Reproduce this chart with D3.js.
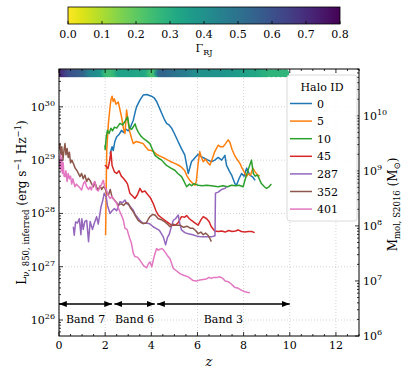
<!DOCTYPE html>
<html>
<head>
<meta charset="utf-8">
<script src="https://cdn.jsdelivr.net/npm/d3@7"></script>
<style>
body { margin: 0; background: #fff; }
</style>
</head>
<body>
<svg id="chart" width="416" height="377" font-family="'DejaVu Serif', 'Liberation Serif', serif"></svg>
<script>
// halo ids + colours
const haloIds = ["0", "5", "10", "45", "287", "352", "401"];
const haloColors = ["#1f77b4", "#ff7f0e", "#2ca02c", "#d62728", "#9467bd", "#8c564b", "#e377c2"];

// redshift and log10(L)
const halo0Z = [2.21,2.3,2.35,2.42,2.5,2.6,2.71,2.8,2.9,3.0,3.1,3.22,3.3,3.36,3.5,3.65,3.8,4.01,4.12,4.23,4.35,4.45,4.55,4.66,4.77,4.88,5.0,5.17,5.3,5.45,5.6,5.74,5.9,6.03,6.18,6.32,6.46,6.6,6.75,6.9,7.05,7.19,7.26,7.4,7.48,7.62,7.69,7.8,7.91,8.02,8.13,8.27,8.4,8.5];
const halo0L = [29.12,29.25,29.18,29.35,29.44,29.48,29.56,29.52,29.58,29.55,29.62,29.75,29.9,30.0,30.12,30.22,30.23,30.2,30.17,30.1,29.98,29.88,29.78,29.69,29.66,29.6,29.5,29.34,29.22,29.1,28.75,28.97,29.05,29.11,29.06,29.03,29.0,28.97,29.0,29.05,29.0,29.09,28.9,28.78,28.72,28.56,28.53,28.65,28.75,28.7,28.85,28.72,28.68,28.62];

const halo5Z = [2.02,2.04,2.07,2.14,2.2,2.25,2.3,2.35,2.4,2.47,2.57,2.64,2.71,2.79,2.86,2.93,3.0,3.07,3.15,3.22,3.35,3.5,3.65,3.75,3.87,4.0,4.1,4.25,4.45,4.6,4.8,5.02,5.2,5.3,5.45,5.55,5.67,5.8,5.89,5.95,6.02,6.1,6.17,6.25,6.35,6.45,6.54,6.62,6.75,6.9,7.0,7.11,7.2,7.33,7.4,7.5,7.6,7.69,7.84,7.91,8.0,8.12,8.2,8.3,8.4,8.5,8.6,8.7];
const halo5L = [27.59,28.3,29.2,29.69,29.95,30.13,30.2,30.1,30.15,30.05,30.09,29.95,29.81,29.6,29.5,29.94,29.7,29.53,29.4,29.31,29.35,29.33,29.31,29.25,29.19,29.18,29.16,29.1,29.06,29.03,28.98,28.94,28.9,28.87,28.8,28.7,28.62,28.56,28.53,28.6,28.9,29.16,29.05,28.97,29.02,28.95,28.91,29.0,29.16,29.28,29.25,29.25,29.3,29.38,29.34,29.2,29.1,29.03,28.94,28.87,28.8,28.69,28.74,28.72,28.85,28.78,28.72,28.7];

const halo10Z = [1.99,2.0,2.05,2.1,2.17,2.25,2.32,2.4,2.5,2.64,2.75,2.85,2.97,3.05,3.15,3.3,3.35,3.43,3.55,3.65,3.8,3.94,4.05,4.16,4.3,4.45,4.55,4.66,4.85,5.02,5.15,5.31,5.42,5.53,5.65,5.75,5.85,6.03,6.2,6.4,6.6,6.9,7.1,7.3,7.48,7.65,7.8,7.98,8.1,8.22,8.34,8.42,8.5,8.6,8.77,8.9,8.99,9.1,9.2];
const halo10L = [29.28,29.2,29.45,29.56,29.5,29.6,29.55,29.62,29.6,29.69,29.66,29.72,29.81,29.6,29.58,29.68,29.6,29.53,29.45,29.41,29.36,29.31,29.2,29.09,29.04,29.0,28.95,28.9,28.85,28.81,28.75,28.69,28.6,28.5,28.55,28.52,28.56,28.53,28.52,28.53,28.52,28.5,28.52,28.5,28.53,28.52,28.53,28.5,28.69,28.85,29.0,28.75,28.7,28.72,28.56,28.5,28.47,28.5,28.55];

const halo45Z = [1.99,2.05,2.12,2.18,2.25,2.3,2.4,2.5,2.6,2.7,2.79,2.9,2.97,3.07,3.18,3.29,3.4,3.51,3.6,3.72,3.85,3.95,4.08,4.2,4.3,4.4,4.5,4.65,4.88,5.05,5.15,5.31,5.45,5.53,5.65,5.74,5.9,6.03,6.15,6.25,6.4,6.5,6.6,6.75,6.9,7.05,7.2,7.35,7.5,7.65,7.76,7.9,8.05,8.2,8.35,8.48];
const halo45L = [28.91,28.88,28.84,28.95,29.16,28.9,28.78,28.75,28.8,28.7,28.66,28.6,28.55,28.38,28.33,28.28,28.35,28.47,28.4,28.42,28.35,28.3,28.19,28.05,27.97,27.93,27.9,27.85,27.78,27.78,27.82,27.94,27.93,27.96,27.9,27.87,27.82,27.78,27.88,27.94,27.9,27.85,27.75,27.67,27.66,27.67,27.65,27.68,27.66,27.67,27.69,27.66,27.65,27.66,27.66,27.64];

const halo287Z = [0.62,0.66,0.72,0.8,0.88,0.95,0.99,1.05,1.12,1.2,1.28,1.35,1.45,1.52,1.63,1.7,1.82,1.9,1.96,2.05,2.1,2.21,2.3,2.4,2.5,2.64,2.75,2.86,2.95,3.05,3.22,3.3,3.43,3.55,3.65,3.8,3.95,4.08,4.2,4.35,4.52,4.62,4.7,4.77,4.85,4.95,5.05,5.17,5.24,5.31,5.45,5.6,5.8,6.0,6.18,6.4,6.6,6.76,6.78,6.9,7.05,7.19,7.26];
const halo287L = [27.75,27.59,27.84,27.82,27.9,27.6,27.9,27.7,27.85,27.87,27.47,27.85,27.7,27.8,27.94,27.8,28.12,28.25,28.38,28.3,28.15,28.0,28.05,28.09,28.05,28.22,28.2,28.25,28.18,28.15,28.06,27.98,27.91,27.85,27.81,27.82,27.8,27.75,27.72,27.68,27.56,27.41,27.55,27.6,27.72,27.87,27.9,27.97,27.8,27.69,27.64,27.62,27.6,27.57,27.56,27.56,27.56,27.58,28.38,28.4,28.45,28.47,28.5];

const halo352Z = [0.0,0.04,0.08,0.12,0.17,0.22,0.26,0.3,0.35,0.4,0.45,0.5,0.56,0.62,0.7,0.77,0.84,0.91,0.98,1.05,1.12,1.2,1.27,1.34,1.42,1.49,1.56,1.62,1.7,1.78,1.85,1.92,1.99,2.07,2.14,2.22,2.3,2.4,2.5,2.57,2.7,2.8,2.9,3.0,3.1,3.22,3.32,3.43,3.55,3.65,3.78,3.88,3.94,4.05,4.16,4.3,4.45,4.59,4.7,4.81,4.95,5.05,5.24,5.4,5.55,5.7,5.81,5.92,6.03,6.15,6.25,6.35,6.46,6.55,6.6];
const halo352L = [29.2,29.31,29.1,29.25,29.0,29.2,29.31,29.1,29.22,29.05,29.15,28.95,29.0,28.94,28.85,28.81,28.75,28.69,28.75,28.65,28.72,28.6,28.66,28.62,28.55,28.5,28.58,28.5,28.44,28.52,28.45,28.5,28.48,28.38,28.34,28.45,28.3,28.25,28.2,28.16,28.18,28.15,28.2,28.19,28.1,28.03,27.95,27.87,27.83,27.81,27.82,27.9,27.94,27.98,27.97,27.9,27.88,27.84,27.8,27.75,27.8,27.78,27.78,27.74,27.76,27.72,27.72,27.68,27.62,27.65,27.6,27.63,27.59,27.52,27.47];

const halo401Z = [0.0,0.03,0.06,0.09,0.12,0.15,0.18,0.22,0.26,0.3,0.35,0.4,0.45,0.5,0.55,0.6,0.69,0.75,0.82,0.9,0.98,1.05,1.12,1.2,1.28,1.35,1.4,1.48,1.55,1.62,1.7,1.78,1.85,1.92,1.98,2.05,2.12,2.21,2.3,2.4,2.5,2.57,2.64,2.72,2.79,2.86,2.95,3.05,3.14,3.22,3.29,3.4,3.51,3.65,3.72,3.8,3.87,3.94,4.02,4.1,4.16,4.23,4.3,4.38,4.45,4.52,4.62,4.73,4.81,4.95,5.1,5.24,5.4,5.6,5.81,5.95,6.1,6.25,6.39,6.5,6.6,6.7,6.85,6.97,7.1,7.2,7.33,7.45,7.55,7.62,7.75,7.9,8.05,8.15,8.27];
const halo401L = [29.0,28.85,29.1,28.8,29.05,28.75,28.95,28.7,28.69,28.8,28.6,28.75,28.65,28.7,28.55,28.65,28.5,28.55,28.52,28.48,28.44,28.55,28.6,28.5,28.45,28.5,28.44,28.55,28.6,28.45,28.42,28.5,28.55,28.62,28.5,28.45,28.35,28.28,28.32,28.25,28.19,28.1,28.03,27.95,27.87,27.72,27.7,27.55,27.44,27.25,27.19,27.18,27.12,27.03,27.0,26.98,27.05,27.09,27.0,27.15,27.25,27.34,27.31,27.33,27.34,27.32,27.26,27.19,27.15,26.97,26.92,26.87,26.84,26.81,26.74,26.73,26.75,26.76,26.77,26.8,26.78,26.8,26.8,26.81,26.78,26.73,26.72,26.68,26.64,26.61,26.6,26.56,26.53,26.52,26.51];

const haloZ = [halo0Z, halo5Z, halo10Z, halo45Z, halo287Z, halo352Z, halo401Z];
const haloL = [halo0L, halo5L, halo10L, halo45L, halo287L, halo352L, halo401L];

// Gamma_RJ strip along the top
const rowZ = [0.0,0.1,0.2,0.3,0.4,0.5,0.6,0.7,0.8,0.9,1.0,1.1,1.2,1.3,1.4,1.5,1.6,1.7,1.8,1.9,2.0,2.1,2.2,2.3,2.4,2.5,2.6,2.7,2.8,2.9,3.0,3.1,3.2,3.3,3.4,3.5,3.6,3.7,3.8,3.9,4.0,4.1,4.2,4.3,4.4,4.5,4.6,4.7,4.8,4.9,5.0,5.1,5.2,5.3,5.4,5.5,5.6,5.7,5.8,5.9,6.0,6.1,6.2,6.3,6.4,6.5,6.6,6.7,6.8,6.9,7.0,7.1,7.2,7.3,7.4,7.5,7.6,7.7,7.8,7.9,8.0,8.1,8.2,8.3,8.4,8.5,8.6,8.7,8.8,8.9,9.0,9.2,9.4,9.6,9.8];
const rowGamma = [0.74,0.72,0.70,0.67,0.64,0.61,0.60,0.59,0.58,0.57,0.56,0.55,0.53,0.48,0.45,0.43,0.42,0.41,0.40,0.38,0.30,0.26,0.25,0.25,0.26,0.28,0.33,0.34,0.34,0.34,0.34,0.34,0.34,0.34,0.33,0.33,0.33,0.33,0.32,0.30,0.25,0.24,0.25,0.40,0.52,0.54,0.55,0.54,0.53,0.52,0.51,0.50,0.49,0.48,0.48,0.47,0.46,0.45,0.44,0.42,0.41,0.41,0.40,0.40,0.40,0.40,0.40,0.40,0.40,0.39,0.39,0.39,0.39,0.38,0.38,0.38,0.37,0.37,0.36,0.36,0.35,0.35,0.34,0.34,0.33,0.33,0.33,0.32,0.31,0.30,0.29,0.28,0.28,0.28,0.28];

// ALMA bands
const bandNames = ["Band 7", "Band 6", "Band 3"];
const bandStart = [0, 2.4, 4.25];
const bandEnd = [2.3, 4.15, 10];

const xTicks = [0, 2, 4, 6, 8, 10, 12];
const yTicks = [26, 27, 28, 29, 30];
const yRightTicks = [6, 7, 8, 9, 10];
const cbTicks = [0.0, 0.1, 0.2, 0.3, 0.4, 0.5, 0.6, 0.7, 0.8];

const svg = d3.select("#chart");
const pL = 59, pR = 359, pT = 69, pB = 336;

const x = d3.scaleLinear().domain([0, 13]).range([pL, pR]);
const y = d3.scaleLog().domain([Math.pow(10, 25.7), Math.pow(10, 30.71)]).range([pB, pT]);
const yR = d3.scaleLog().domain([1e6, Math.pow(10, 10.85)]).range([pB, pT]);
const cmap = v => d3.interpolateViridis(1 - v / 0.8);

// grid
const grid = svg.append("g").attr("stroke", "#c8c8c8").attr("stroke-width", 0.8).attr("stroke-dasharray", "1,2");
xTicks.forEach(t => grid.append("line").attr("x1", x(t)).attr("x2", x(t)).attr("y1", pT).attr("y2", pB));
yTicks.forEach(t => grid.append("line").attr("x1", pL).attr("x2", pR).attr("y1", y(Math.pow(10, t))).attr("y2", y(Math.pow(10, t))));

// clip
svg.append("clipPath").attr("id", "clip").append("rect")
    .attr("x", pL).attr("y", pT).attr("width", pR - pL).attr("height", pB - pT);

const line = d3.line().x(d => x(d[0])).y(d => y(Math.pow(10, d[1])));
const plot = svg.append("g").attr("clip-path", "url(#clip)");
haloIds.forEach((id, i) => {
    const pts = haloZ[i].map((z, j) => [z, haloL[i][j]]);
    plot.append("path").datum(pts)
        .attr("d", line)
        .attr("fill", "none")
        .attr("stroke", haloColors[i])
        .attr("stroke-width", 1.5)
        .attr("stroke-linejoin", "round");
});

// gamma strip
plot.selectAll("circle.row").data(rowZ).enter().append("circle")
    .attr("cx", d => x(d))
    .attr("cy", y(Math.pow(10, 30.63)))
    .attr("r", 4)
    .attr("fill", (d, i) => cmap(rowGamma[i]));

// band arrows
svg.append("defs").html(
    '<marker id="ah" viewBox="0 0 10 10" refX="10" refY="5" markerWidth="6" markerHeight="6" orient="auto-start-reverse">' +
    '<path d="M0,1 L10,5 L0,9 z" fill="#000"/></marker>');
const bandY = 304;
bandNames.forEach((b, i) => {
    svg.append("line")
        .attr("x1", x(bandStart[i])).attr("x2", x(bandEnd[i]))
        .attr("y1", bandY).attr("y2", bandY)
        .attr("stroke", "#000").attr("stroke-width", 1.3)
        .attr("marker-start", "url(#ah)").attr("marker-end", "url(#ah)");
    svg.append("text")
        .attr("x", x((bandStart[i] + bandEnd[i]) / 2))
        .attr("y", 323)
        .attr("text-anchor", "middle")
        .attr("font-size", 11)
        .text(b);
});

// frame
svg.append("rect").attr("x", pL).attr("y", pT).attr("width", pR - pL).attr("height", pB - pT)
    .attr("fill", "none").attr("stroke", "#000").attr("stroke-width", 1);

// ticks
const tk = svg.append("g").attr("stroke", "#000").attr("stroke-width", 0.8);
for (let t = 0; t <= 13; t += 0.5) {
    const len = (t % 2 === 0) ? 4 : 2;
    tk.append("line").attr("x1", x(t)).attr("x2", x(t)).attr("y1", pB).attr("y2", pB - len);
    tk.append("line").attr("x1", x(t)).attr("x2", x(t)).attr("y1", pT).attr("y2", pT + len);
}
y.ticks(40).forEach(v => {
    const major = Math.abs(Math.log10(v) - Math.round(Math.log10(v))) < 1e-6;
    tk.append("line").attr("x1", pL).attr("x2", pL + (major ? 4 : 2)).attr("y1", y(v)).attr("y2", y(v));
});
yR.ticks(40).forEach(v => {
    const major = Math.abs(Math.log10(v) - Math.round(Math.log10(v))) < 1e-6;
    tk.append("line").attr("x1", pR).attr("x2", pR - (major ? 4 : 2)).attr("y1", yR(v)).attr("y2", yR(v));
});

// tick labels
xTicks.forEach(t => svg.append("text").attr("x", x(t)).attr("y", 349).attr("text-anchor", "middle")
    .attr("font-size", 11).text(t));
yTicks.forEach(t => {
    const tx = svg.append("text").attr("x", 55).attr("y", y(Math.pow(10, t)) + 4)
        .attr("text-anchor", "end").attr("font-size", 11);
    tx.append("tspan").text("10");
    tx.append("tspan").attr("dy", -5).attr("font-size", 8).text(t);
});
yRightTicks.forEach(t => {
    const tx = svg.append("text").attr("x", 363).attr("y", yR(Math.pow(10, t)) + 4)
        .attr("font-size", 11);
    tx.append("tspan").text("10");
    tx.append("tspan").attr("dy", -5).attr("font-size", 8).text(t);
});

// axis labels
svg.append("text").attr("x", x(6.5)).attr("y", 366).attr("text-anchor", "middle")
    .attr("font-size", 13).attr("font-style", "italic").text("z");

const ly = svg.append("text").attr("transform", `translate(26,${(pT + pB) / 2}) rotate(-90)`)
    .attr("text-anchor", "middle").attr("font-size", 12);
ly.append("tspan").text("L");
ly.append("tspan").attr("dy", 3).attr("font-size", 8.5).text("ν, 850, inferred");
ly.append("tspan").attr("dy", -3).text(" (erg s");
ly.append("tspan").attr("dy", -5).attr("font-size", 8.5).text("−1");
ly.append("tspan").attr("dy", 5).text(" Hz");
ly.append("tspan").attr("dy", -5).attr("font-size", 8.5).text("−1");
ly.append("tspan").attr("dy", 5).text(")");

const ry = svg.append("text").attr("transform", `translate(397,${(pT + pB) / 2 + 2}) rotate(-90)`)
    .attr("text-anchor", "middle").attr("font-size", 12);
ry.append("tspan").text("M");
ry.append("tspan").attr("dy", 3).attr("font-size", 8.5).text("mol, S2016");
ry.append("tspan").attr("dy", -3).text(" (M");
ry.append("tspan").attr("dy", 3).attr("font-size", 8.5).text("⊙");
ry.append("tspan").attr("dy", -3).text(")");

// legend
const lg = svg.append("g");
lg.append("rect").attr("x", 287).attr("y", 75).attr("width", 70).attr("height", 146)
    .attr("rx", 3).attr("fill", "#fff").attr("fill-opacity", 0.85)
    .attr("stroke", "#d0d0d0").attr("stroke-width", 0.8);
lg.append("text").attr("x", 322).attr("y", 91).attr("text-anchor", "middle").attr("font-size", 11).text("Halo ID");
haloIds.forEach((id, i) => {
    const ly2 = 103.5 + i * 17.6;
    lg.append("line").attr("x1", 290).attr("x2", 312).attr("y1", ly2).attr("y2", ly2)
        .attr("stroke", haloColors[i]).attr("stroke-width", 1.5);
    lg.append("text").attr("x", 317).attr("y", ly2 + 4).attr("font-size", 11).text(id);
});

// colorbar
const cbX = d3.scaleLinear().domain([0, 0.8]).range([68, 340]);
const grad = svg.append("defs").append("linearGradient").attr("id", "cb");
d3.range(0, 1.001, 0.05).forEach(s => grad.append("stop")
    .attr("offset", s).attr("stop-color", cmap(s * 0.8)));
svg.append("rect").attr("x", 68).attr("y", 7).attr("width", 272).attr("height", 17)
    .attr("fill", "url(#cb)").attr("stroke", "#000").attr("stroke-width", 0.8);
cbTicks.forEach(t => {
    svg.append("line").attr("x1", cbX(t)).attr("x2", cbX(t)).attr("y1", 24).attr("y2", 21)
        .attr("stroke", "#000").attr("stroke-width", 0.8);
    svg.append("text").attr("x", cbX(t)).attr("y", 38).attr("text-anchor", "middle")
        .attr("font-size", 11).text(t.toFixed(1));
});
const cl = svg.append("text").attr("x", 204).attr("y", 52).attr("text-anchor", "middle").attr("font-size", 11);
cl.append("tspan").text("Γ");
cl.append("tspan").attr("dy", 3).attr("font-size", 8).text("RJ");
</script>
</body>
</html>
